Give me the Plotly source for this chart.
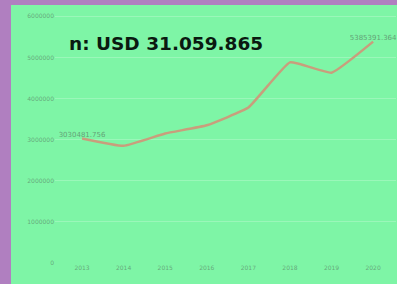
import plotly.graph_objects as go

years = [2013, 2014, 2015, 2016, 2017, 2018, 2019, 2020]
values = [3030481.756, 2850000, 3150000, 3350000, 3780000, 4880000, 4630000, 5385391.364]
point_labels = ["3030481.756", "", "", "", "", "", "", "5385391.364"]
y_ticks = [0, 1000000, 2000000, 3000000, 4000000, 5000000, 6000000]
title_text = "n: USD 31.059.865"

W, H = 397, 284
ML, MR, MT, MB = 55, 1, 4, 21
pw = W - ML - MR
ph = H - MT - MB

def px_x(p):
    return (p - ML) / pw

def px_y(p):
    return 1 - (p - MT) / ph

fig = go.Figure()
fig.add_trace(go.Scatter(
    x=years, y=values, mode="lines+text",
    line=dict(color="#c99e7c", width=2.5, shape="spline", smoothing=0.35),
    text=point_labels, textposition="top center",
    textfont=dict(size=7, color="rgba(80,100,85,0.6)", family="DejaVu Sans"),
    cliponaxis=False, hoverinfo="skip",
))

purple = "#b07fc0"
fig.add_shape(type="rect", xref="paper", yref="paper",
              x0=px_x(0), x1=px_x(11), y0=px_y(H), y1=px_y(0),
              fillcolor=purple, line_width=0, layer="below")
fig.add_shape(type="rect", xref="paper", yref="paper",
              x0=px_x(0), x1=px_x(W), y0=px_y(5), y1=px_y(0),
              fillcolor=purple, line_width=0, layer="below")

fig.add_annotation(text="<b>" + title_text + "</b>", xref="paper", yref="paper",
                   x=px_x(67), y=px_y(43.5), xanchor="left", yanchor="middle",
                   showarrow=False, font=dict(size=18.5, color="#0a1a10", family="DejaVu Sans"))

fig.update_layout(
    width=W, height=H,
    margin=dict(l=ML, r=MR, t=MT, b=MB),
    paper_bgcolor="#7ef5a6", plot_bgcolor="rgba(0,0,0,0)",
    showlegend=False,
    xaxis=dict(range=[2012.35, 2020.55], tickvals=years, ticktext=[str(y) for y in years],
               showgrid=False, zeroline=False, showline=False, ticks="",
               tickfont=dict(size=6, color="rgba(80,100,85,0.55)", family="DejaVu Sans")),
    yaxis=dict(range=[0, 6300000], tickvals=y_ticks, ticktext=[str(v) for v in y_ticks],
               showgrid=True, gridcolor="rgba(255,255,255,0.22)", gridwidth=1,
               zeroline=False, showline=False, ticks="",
               tickfont=dict(size=6, color="rgba(80,100,85,0.55)", family="DejaVu Sans")),
)

fig.write_html("out.html", config={"displayModeBar": False},
               post_script="document.body.style.margin='0';document.body.style.overflow='hidden';")
